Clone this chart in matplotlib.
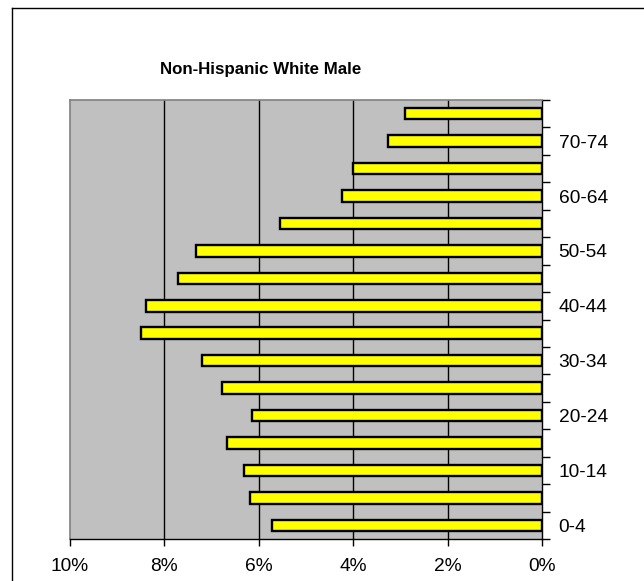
import matplotlib
matplotlib.use("Agg")
import matplotlib.pyplot as plt
from matplotlib.lines import Line2D
from matplotlib.ticker import FixedLocator, NullFormatter

plt.rcParams['font.family'] = ['Liberation Sans', 'DejaVu Sans']

categories = ["0-4", "5-9", "10-14", "15-19", "20-24", "25-29", "30-34", "35-39",
              "40-44", "45-49", "50-54", "55-59", "60-64", "65-69", "70-74", "75+"]
values = [5.73, 6.19, 6.32, 6.67, 6.14, 6.79, 7.20, 8.50,
          8.39, 7.72, 7.32, 5.55, 4.23, 4.01, 3.27, 2.90]
xticks = [10, 8, 6, 4, 2, 0]
xticklabels = ["10%", "8%", "6%", "4%", "2%", "0%"]
title = "Non-Hispanic White Male"

fig = plt.figure(figsize=(6.44, 5.81), dpi=100)
ax = fig.add_axes([70/644, 1-539/581, (542-70)/644, (539-100)/581])
ax.set_facecolor('#C0C0C0')

y = list(range(len(categories)))
ax.barh(y, values, height=0.42, color='#FFFF00', edgecolor='black', linewidth=1.7, zorder=3)

ax.set_xlim(10, 0)
ax.set_ylim(-0.5, len(categories) - 0.5)

ax.set_xticks(xticks)
ax.set_xticklabels(xticklabels, fontsize=13.8)
ax.tick_params(axis='x', direction='out', length=5, width=1, pad=9, colors='black')
for xv in [8, 6, 4, 2]:
    ax.axvline(xv, color='black', linewidth=1, zorder=1)

# y axis on right: ticks at boundaries, labels at every other category center
ax.yaxis.tick_right()
ax.yaxis.set_major_locator(FixedLocator([i - 0.5 for i in range(len(categories) + 1)]))
ax.yaxis.set_major_formatter(NullFormatter())
ax.tick_params(axis='y', which='major', direction='out', length=6, width=1, colors='black')
ax.set_yticks(y[::2], minor=True)
ax.set_yticklabels(categories[::2], minor=True, fontsize=13.8)
ax.tick_params(axis='y', which='minor', length=0, pad=12)

for s in ['left', 'top']:
    ax.spines[s].set_color('#808080')
    ax.spines[s].set_linewidth(1.2)
for s in ['right', 'bottom']:
    ax.spines[s].set_color('black')
    ax.spines[s].set_linewidth(1)

fig.text(261/644, 1-70/581, title, ha='center', va='center', fontsize=12.2, fontweight='bold')

# outer chart frame (left and top edges visible)
fig.add_artist(Line2D([12/644, 12/644], [0, 1-8/581], color='black', linewidth=1))
fig.add_artist(Line2D([12/644, 1], [1-8/581, 1-8/581], color='black', linewidth=1))

fig.savefig('out.png', dpi=100)
